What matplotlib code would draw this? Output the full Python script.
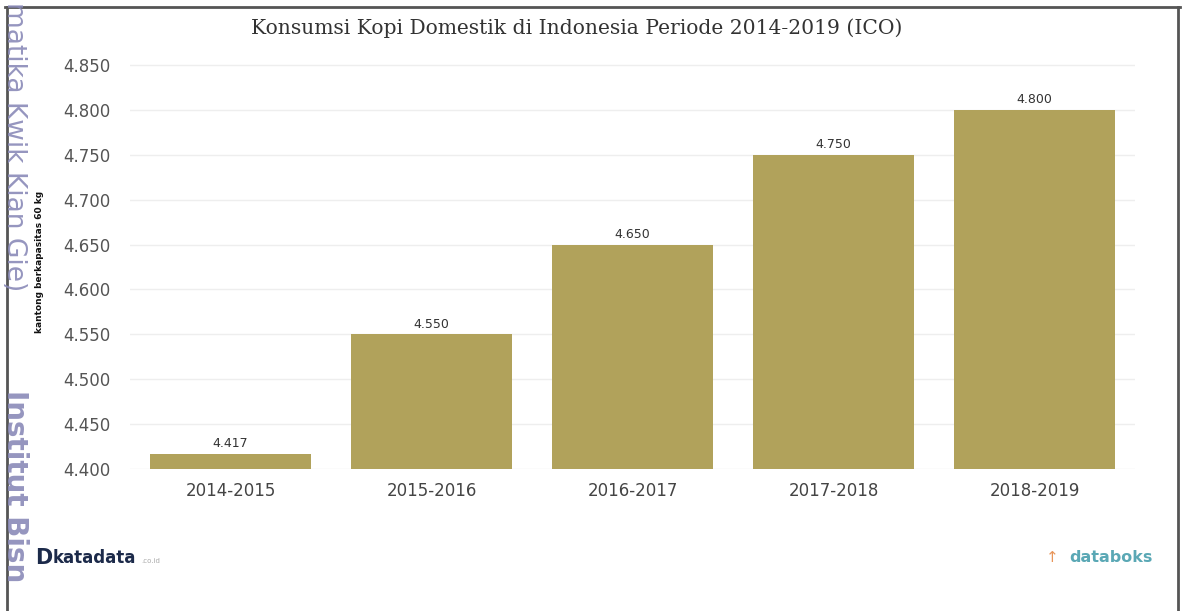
import matplotlib
matplotlib.use("Agg")
import matplotlib.pyplot as plt
from matplotlib.lines import Line2D

categories = ['2014-2015', '2015-2016', '2016-2017', '2017-2018', '2018-2019']
values = [4.417, 4.550, 4.650, 4.750, 4.800]
yticks = [4.400, 4.450, 4.500, 4.550, 4.600, 4.650, 4.700, 4.750, 4.800, 4.850]

W, H = 1184, 611
fig = plt.figure(figsize=(W / 100, H / 100), dpi=100)
fig.patch.set_facecolor('white')

ax = fig.add_axes([130 / W, 1 - 469 / H, 1005 / W, (469 - 56) / H])
x = list(range(len(categories)))
ax.bar(x, values, width=0.8, color='#B1A25B', zorder=3)
ax.set_xlim(-0.5, len(categories) - 0.5)
ax.set_ylim(4.400, 4.860)
ax.set_yticks(yticks)
ax.set_yticklabels([f"{t:.3f}" for t in yticks], color='#555555', fontsize=12)
ax.set_xticks(x)
ax.set_xticklabels(categories, color='#444444', fontsize=12)
ax.tick_params(axis='both', length=0)
ax.tick_params(axis='x', pad=9)
ax.tick_params(axis='y', pad=14)
ax.grid(axis='y', color='#EEEEEE', linewidth=1, zorder=0)
for s in ax.spines.values():
    s.set_visible(False)

for xi, v in zip(x, values):
    ax.text(xi, v + 0.004, f"{v:.3f}", ha='center', va='bottom',
            fontsize=9, color='#333333', zorder=4)

fig.text(577 / W, 1 - 28 / H, 'Konsumsi Kopi Domestik di Indonesia Periode 2014-2019 (ICO)',
         family='DejaVu Serif', fontsize=14.6, color='#333333', ha='center', va='center')

fig.text(40 / W, 1 - 262 / H, 'kantong berkapasitas 60 kg', rotation=90,
         fontsize=6.5, fontweight='bold', color='#111111', ha='center', va='center')

# logos (as text)
fig.text(35 / W, 1 - 558 / H, 'D', fontsize=15, fontweight='bold', color='#1C2A4A',
         ha='left', va='center')
fig.text(53 / W, 1 - 558 / H, 'katadata', fontsize=12, fontweight='bold', color='#1C2A4A',
         ha='left', va='center')
fig.text(141 / W, 1 - 561 / H, '.co.id', fontsize=5, color='#AAAAAA',
         ha='left', va='center')
fig.text(1046 / W, 1 - 558 / H, '\u2191', fontsize=11, color='#E8955A',
         ha='left', va='center')
fig.text(1069 / W, 1 - 558 / H, 'databoks', fontsize=11.5, fontweight='bold', color='#5AA8B5',
         ha='left', va='center')

# frame lines
fig.add_artist(Line2D([5 / W, 1180 / W], [1 - 7 / H, 1 - 7 / H], color='#555555', lw=2))
fig.add_artist(Line2D([7 / W, 7 / W], [0, 1 - 7 / H], color='#555555', lw=2))
fig.add_artist(Line2D([1178 / W, 1178 / W], [0, 1 - 7 / H], color='#555555', lw=2))

# watermark
fig.text(14 / W, 1 - 2 / H, 'matika Kwik Kian Gie)', rotation=-90, fontsize=19,
         color='#8A8AB8', alpha=0.9, ha='center', va='top')
fig.text(15 / W, 1 - 390 / H, 'Institut Bisn', rotation=-90, fontsize=20,
         fontweight='bold', color='#8A8AB8', alpha=0.9, ha='center', va='top')

fig.savefig('out.png', dpi=100, facecolor='white')
